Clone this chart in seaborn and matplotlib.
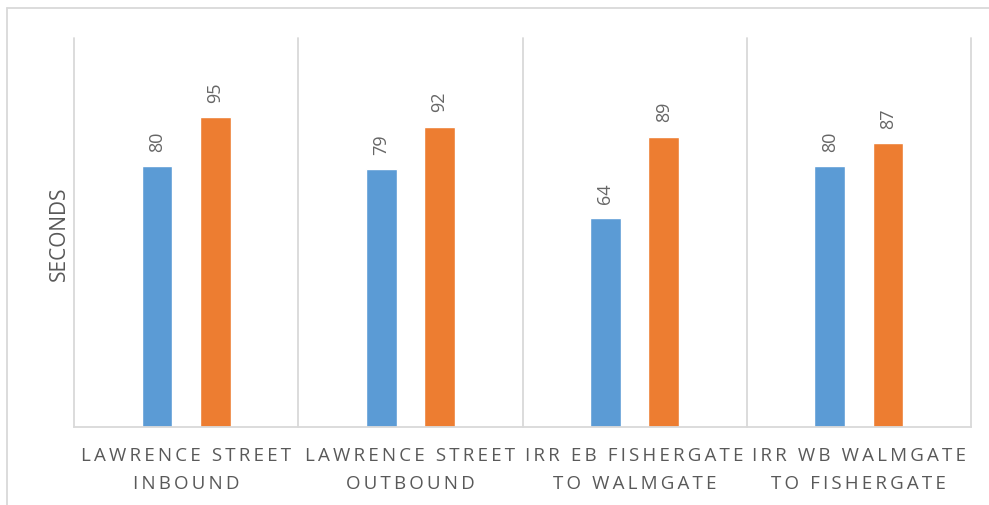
import matplotlib
matplotlib.use("Agg")
import matplotlib.pyplot as plt
from matplotlib.lines import Line2D
import seaborn as sns
import pandas as pd

categories = ["LAWRENCE STREET\nINBOUND", "LAWRENCE STREET\nOUTBOUND",
              "IRR EB FISHERGATE\nTO WALMGATE", "IRR WB WALMGATE\nTO FISHERGATE"]
series_names = ["Series 1", "Series 2"]
blue_values = [80, 79, 64, 80]
orange_values = [95, 92, 89, 87]
y_label = "SECONDS"

BLUE = "#5B9BD5"
ORANGE = "#ED7D31"
TEXT = "#595959"
GRID = "#D9D9D9"

sns.set_theme(style="white")
plt.rcParams["font.family"] = ["Open Sans", "DejaVu Sans"]

df = pd.DataFrame({
    "route": categories * 2,
    "seconds": blue_values + orange_values,
    "series": [series_names[0]] * 4 + [series_names[1]] * 4,
})

W, H = 989, 506
fig = plt.figure(figsize=(W / 100, H / 100), dpi=100)
ax = fig.add_axes([74 / W, 78 / H, 897 / W, 389 / H])

sns.barplot(data=df, x="route", y="seconds", hue="series",
            palette=[BLUE, ORANGE], width=0.52, gap=0.47, saturation=1,
            legend=False, ax=ax)

ax.set_ylim(0, 119.2)
ax.set_xlim(-0.5, 3.5)
ax.set_yticks([])
ax.set_ylabel(y_label, fontsize=15, color=TEXT, labelpad=3)
ax.set_xlabel("")

for c in ax.containers:
    ax.bar_label(c, rotation=90, padding=11, fontsize=13, color="#666666")

THIN = "\u2009"


def spaced(s):
    lines = []
    for line in s.split("\n"):
        words = [THIN.join(list(w)) for w in line.split(" ")]
        lines.append((THIN + " " + THIN).join(words))
    return "\n".join(lines)


ax.set_xticks(range(len(categories)))
ax.set_xticklabels([spaced(c) for c in categories], fontsize=13.5, color=TEXT,
                   linespacing=1.7)
ax.tick_params(axis="x", length=0, pad=13.5)

for s in ["top", "right", "left"]:
    ax.spines[s].set_visible(False)
ax.spines["bottom"].set_color(GRID)
ax.spines["bottom"].set_linewidth(1.3)

for b in [-0.5, 0.5, 1.5, 2.5, 3.5]:
    ax.axvline(b, color=GRID, lw=1.3, clip_on=False, zorder=0)

# outer chart frame (top and left edges visible)
fig.add_artist(Line2D([7 / W, 1], [1 - 9 / H, 1 - 9 / H], transform=fig.transFigure,
                      color=GRID, lw=1.3))
fig.add_artist(Line2D([7 / W, 7 / W], [0, 1 - 9 / H], transform=fig.transFigure,
                      color=GRID, lw=1.3))

fig.savefig("out.png", dpi=100, facecolor="white")
